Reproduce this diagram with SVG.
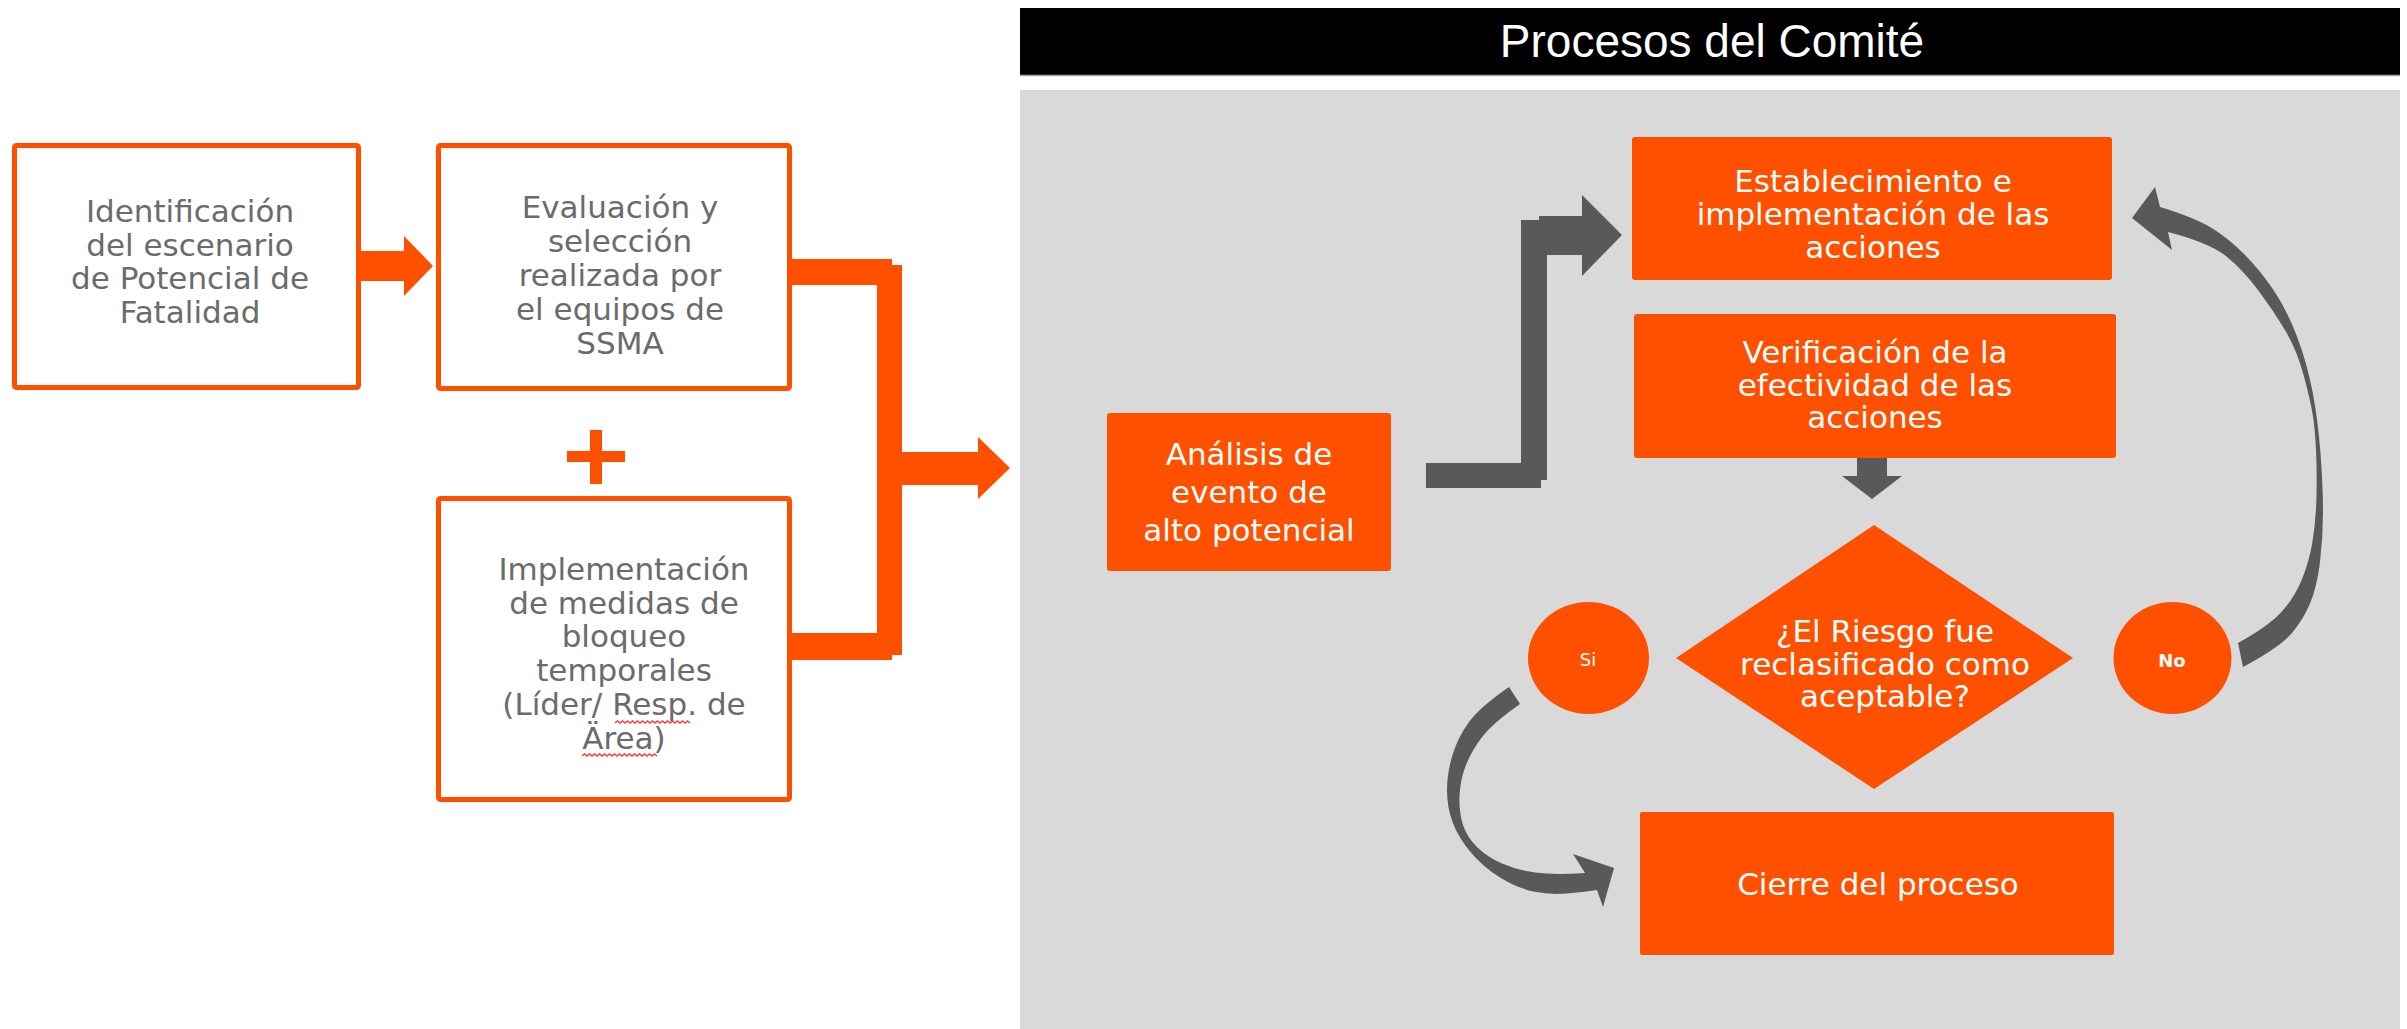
<svg xmlns="http://www.w3.org/2000/svg" width="2407" height="1029" viewBox="0 0 2407 1029">
<style>
.obox{fill:#ffffff;stroke:#ff5000;stroke-width:5}
.ofill{fill:#ff5000}
.gfill{fill:#595959}
.ltxt{font-family:"DejaVu Sans",Verdana,sans-serif;font-size:31px;fill:#6b6b6b;text-anchor:middle}
.wtxt{font-family:"DejaVu Sans",Tahoma,sans-serif;font-size:31px;fill:#ffffff;text-anchor:middle}
.stxt{font-family:"DejaVu Sans",Tahoma,sans-serif;font-size:18px;fill:#ffffff;text-anchor:middle}
.wavy{fill:none;stroke:#ff3b3b;stroke-width:1.4}
</style>
<rect width="2407" height="1029" fill="#ffffff"/>

<g id="header">
<rect x="1020" y="8" width="1380" height="67" fill="#000000"/>
<line x1="1020" y1="75.5" x2="2400" y2="75.5" stroke="#a6a6a6" stroke-width="1.5"/>
<text x="1712" y="57" font-family="Liberation Sans, Arial, sans-serif" font-size="46" fill="#ffffff" text-anchor="middle">Procesos del Comité</text>
</g>
<rect id="panel" x="1020" y="90" width="1380" height="939" fill="#d9d9d9"/>

<g id="connectors">
<path class="ofill" d="M361,251 H404 V236 L433,266 L404,296 V281 H361 Z"/>
<path class="ofill" d="M792,259 H892 V265 H902 V655 H892 V660 H792 V633 H877 V285 H792 Z"/>
<path class="ofill" d="M902,452 H978 V437 L1010,468 L978,499 V485 H902 Z"/>
<path class="gfill" d="M1426,463 H1521 V220 H1539 V216 H1582 V195 L1622,235 L1582,276 V255 H1547 V480 H1541 V488 H1426 Z"/>
<path class="gfill" d="M1857,458 H1887 V476 H1902 L1872,499 L1842,476 H1857 Z"/>
<path class="gfill" d="M2132,218 L2155,187 L2160,207 Q2193,217 2210,227 Q2227,237 2243.5,253.5 Q2260,270 2273.5,290 Q2287,310 2297,336.5 Q2307,363 2312.5,391.5 Q2318,420 2320.5,453.5 Q2323,487 2323,512 Q2323,537 2320,562 Q2317,587 2310,603.5 Q2303,620 2291.5,633.5 Q2280,647 2243,667 L2238,643 Q2267,627 2280,613.5 Q2293,600 2301,581.5 Q2309,563 2312.5,541.5 Q2316,520 2316.5,495 Q2317,470 2316,450 Q2315,430 2313,416.5 Q2311,403 2304,376.5 Q2297,350 2285,330 Q2273,310 2258,290 Q2243,270 2226.5,256.5 Q2210,243 2168,232 L2172,250 Z"/>
<path class="gfill" d="M1509,687 Q1480,707 1469,722 Q1458,737 1452.5,755 Q1447,773 1447,790 Q1447,807 1452.5,822 Q1458,837 1470.5,852 Q1483,867 1500,877.5 Q1517,888 1533.5,891.5 Q1550,895 1566.5,893.5 Q1583,892 1597,890 L1603,907 L1614,868 L1573,854 L1585,873 Q1553,875 1535,872.5 Q1517,870 1502,863.5 Q1487,857 1477,847 Q1467,837 1463,825 Q1459,813 1459.5,796.5 Q1460,780 1466,765 Q1472,750 1482.5,736.5 Q1493,723 1520,704 Z"/>
</g>

<g id="plus">
<rect class="ofill" x="567" y="451" width="58" height="11"/>
<rect class="ofill" x="590" y="430" width="12" height="54"/>
</g>

<g id="n-identificacion">
<rect class="obox" x="14.5" y="145.5" width="344" height="242" rx="2"/>
<text class="ltxt" x="190" y="222">Identificación</text>
<text class="ltxt" x="190" y="255.5">del escenario</text>
<text class="ltxt" x="190" y="289">de Potencial de</text>
<text class="ltxt" x="190" y="322.5">Fatalidad</text>
</g>

<g id="n-evaluacion">
<rect class="obox" x="438.5" y="145.5" width="351" height="243" rx="2"/>
<text class="ltxt" x="620" y="218">Evaluación y</text>
<text class="ltxt" x="620" y="252">selección</text>
<text class="ltxt" x="620" y="286">realizada por</text>
<text class="ltxt" x="620" y="320">el equipos de</text>
<text class="ltxt" x="620" y="354">SSMA</text>
</g>

<g id="n-implementacion">
<rect class="obox" x="438.5" y="498.5" width="351" height="301" rx="2"/>
<text class="ltxt" x="624" y="580">Implementación</text>
<text class="ltxt" x="624" y="614">de medidas de</text>
<text class="ltxt" x="624" y="647">bloqueo</text>
<text class="ltxt" x="624" y="681">temporales</text>
<text class="ltxt" x="624" y="715">(Líder/ Resp. de</text>
<text class="ltxt" x="624" y="749">Ärea)</text>
<path class="wavy" d="M615,723 l2.5,-2 l2.5,2 l2.5,-2 l2.5,2 l2.5,-2 l2.5,2 l2.5,-2 l2.5,2 l2.5,-2 l2.5,2 l2.5,-2 l2.5,2 l2.5,-2 l2.5,2 l2.5,-2 l2.5,2 l2.5,-2 l2.5,2 l2.5,-2 l2.5,2 l2.5,-2 l2.5,2 l2.5,-2 l2.5,2 l2.5,-2 l2.5,2 l2.5,-2 l2.5,2 l2.5,-2 l2.5,2"/>
<path class="wavy" d="M582,756 l2.5,-2 l2.5,2 l2.5,-2 l2.5,2 l2.5,-2 l2.5,2 l2.5,-2 l2.5,2 l2.5,-2 l2.5,2 l2.5,-2 l2.5,2 l2.5,-2 l2.5,2 l2.5,-2 l2.5,2 l2.5,-2 l2.5,2 l2.5,-2 l2.5,2 l2.5,-2 l2.5,2 l2.5,-2 l2.5,2 l2.5,-2 l2.5,2 l2.5,-2 l2.5,2 l2.5,-2 l2.5,2"/>
</g>

<g id="n-analisis">
<rect class="ofill" x="1107" y="413" width="284" height="158" rx="3"/>
<text class="wtxt" x="1249" y="465">Análisis de</text>
<text class="wtxt" x="1249" y="503">evento de</text>
<text class="wtxt" x="1249" y="541">alto potencial</text>
</g>

<g id="n-establecimiento">
<rect class="ofill" x="1632" y="137" width="480" height="143" rx="3"/>
<text class="wtxt" x="1873" y="192">Establecimiento e</text>
<text class="wtxt" x="1873" y="225">implementación de las</text>
<text class="wtxt" x="1873" y="258">acciones</text>
</g>

<g id="n-verificacion">
<rect class="ofill" x="1634" y="314" width="482" height="144" rx="3"/>
<text class="wtxt" x="1875" y="363">Verificación de la</text>
<text class="wtxt" x="1875" y="395.5">efectividad de las</text>
<text class="wtxt" x="1875" y="428">acciones</text>
</g>

<g id="n-decision">
<polygon class="ofill" points="1874,525 2073,658 1874,789 1676,658"/>
<text class="wtxt" x="1885" y="642">¿El Riesgo fue</text>
<text class="wtxt" x="1885" y="674.5">reclasificado como</text>
<text class="wtxt" x="1885" y="707">aceptable?</text>
</g>

<g id="n-si">
<ellipse class="ofill" cx="1588.5" cy="658" rx="60.5" ry="56"/>
<text class="stxt" x="1588" y="666">Si</text>
</g>

<g id="n-no">
<ellipse class="ofill" cx="2172.5" cy="658" rx="59" ry="56"/>
<text class="stxt" x="2172" y="667" font-weight="bold">No</text>
</g>

<g id="n-cierre">
<rect class="ofill" x="1640" y="812" width="474" height="143" rx="2"/>
<text class="wtxt" x="1878" y="895">Cierre del proceso</text>
</g>
</svg>
